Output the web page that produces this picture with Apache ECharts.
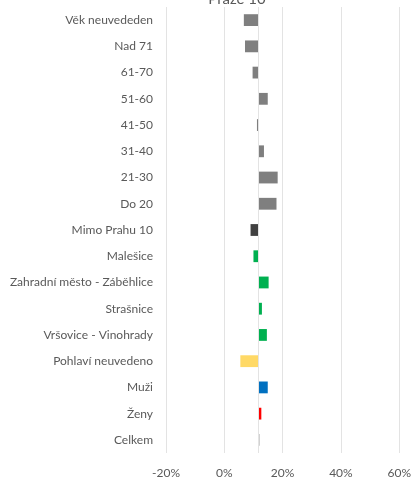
<!DOCTYPE html>
<html>
<head>
<meta charset="utf-8">
<title>Praze 10</title>
<script src="https://cdn.jsdelivr.net/npm/echarts@6/dist/echarts.min.js"></script>
<style>
  html, body { margin: 0; padding: 0; background: #fff; }
  #chart { width: 414px; height: 479px; }
</style>
</head>
<body>
<div id="chart"></div>
<script>
// kategorie shora dolu
const categories = [
  'Věk neuvededen', 'Nad 71', '61-70', '51-60', '41-50', '31-40', '21-30', 'Do 20',
  'Mimo Prahu 10', 'Malešice', 'Zahradní město - Záběhlice', 'Strašnice', 'Vršovice - Vinohrady',
  'Pohlaví neuvedeno', 'Muži', 'Ženy', 'Celkem'
]
// hodnoty v %
const values = [6.7, 7.1, 9.7, 14.9, 11.2, 13.6, 18.3, 17.9, 9.0, 10.0, 15.2, 12.9, 14.6, 5.5, 14.9, 12.7, 11.8]
const baseValue = 11.8 // osa krizi v hodnote Celkem
const tickLabels = ['-20%', '0%', '20%', '40%', '60%']

const barColors = [
  '#7f7f7f', '#7f7f7f', '#7f7f7f', '#7f7f7f', '#7f7f7f', '#7f7f7f', '#7f7f7f', '#7f7f7f',
  '#404040', '#00b050', '#00b050', '#00b050', '#00b050',
  '#ffd966', '#0070c0', '#ff0000', '#bfbfbf'
]

const chart = echarts.init(document.getElementById('chart'))
const font = 'Lato, "Open Sans", sans-serif'

const option = {
  animation: false,
  title: {
    text: 'Praze 10',
    left: 232,
    textAlign: 'center',
    top: -13,
    textStyle: { fontSize: 15, fontWeight: 'normal', color: '#595959', fontFamily: font }
  },
  grid: { left: 166, right: 10, top: 7, bottom: 24 },
  xAxis: {
    type: 'value',
    min: -20,
    max: 60,
    interval: 20,
    axisLine: { show: false },
    axisTick: { show: false },
    splitLine: { lineStyle: { color: '#e3e3e3' } },
    axisLabel: {
      color: '#595959',
      fontSize: 12,
      fontFamily: font,
      margin: 14,
      formatter: (v) => tickLabels[Math.round((v + 20) / 20)]
    }
  },
  yAxis: {
    type: 'category',
    data: categories,
    inverse: true,
    axisLine: { show: false },
    axisTick: { show: false },
    axisLabel: { color: '#595959', fontSize: 12, fontFamily: font, margin: 13 }
  },
  series: [{
    type: 'custom',
    data: values.map((v, i) => [v, i]),
    encode: { x: 0, y: 1 },
    renderItem: (params, api) => {
      const idx = api.value(1)
      const start = api.coord([baseValue, idx])
      const end = api.coord([api.value(0), idx])
      const h = api.size([0, 1])[1] * 0.45
      const x = Math.min(start[0], end[0])
      const w = Math.max(Math.abs(end[0] - start[0]), 1)
      return {
        type: 'rect',
        z2: 10,
        shape: { x: x, y: start[1] - h / 2, width: w, height: h },
        style: { fill: barColors[idx] }
      }
    },
    markLine: {
      silent: true,
      symbol: 'none',
      label: { show: false },
      lineStyle: { color: '#e3e3e3', type: 'solid', width: 1 },
      data: [{ xAxis: baseValue }]
    }
  }]
}
chart.setOption(option)
</script>
</body>
</html>
